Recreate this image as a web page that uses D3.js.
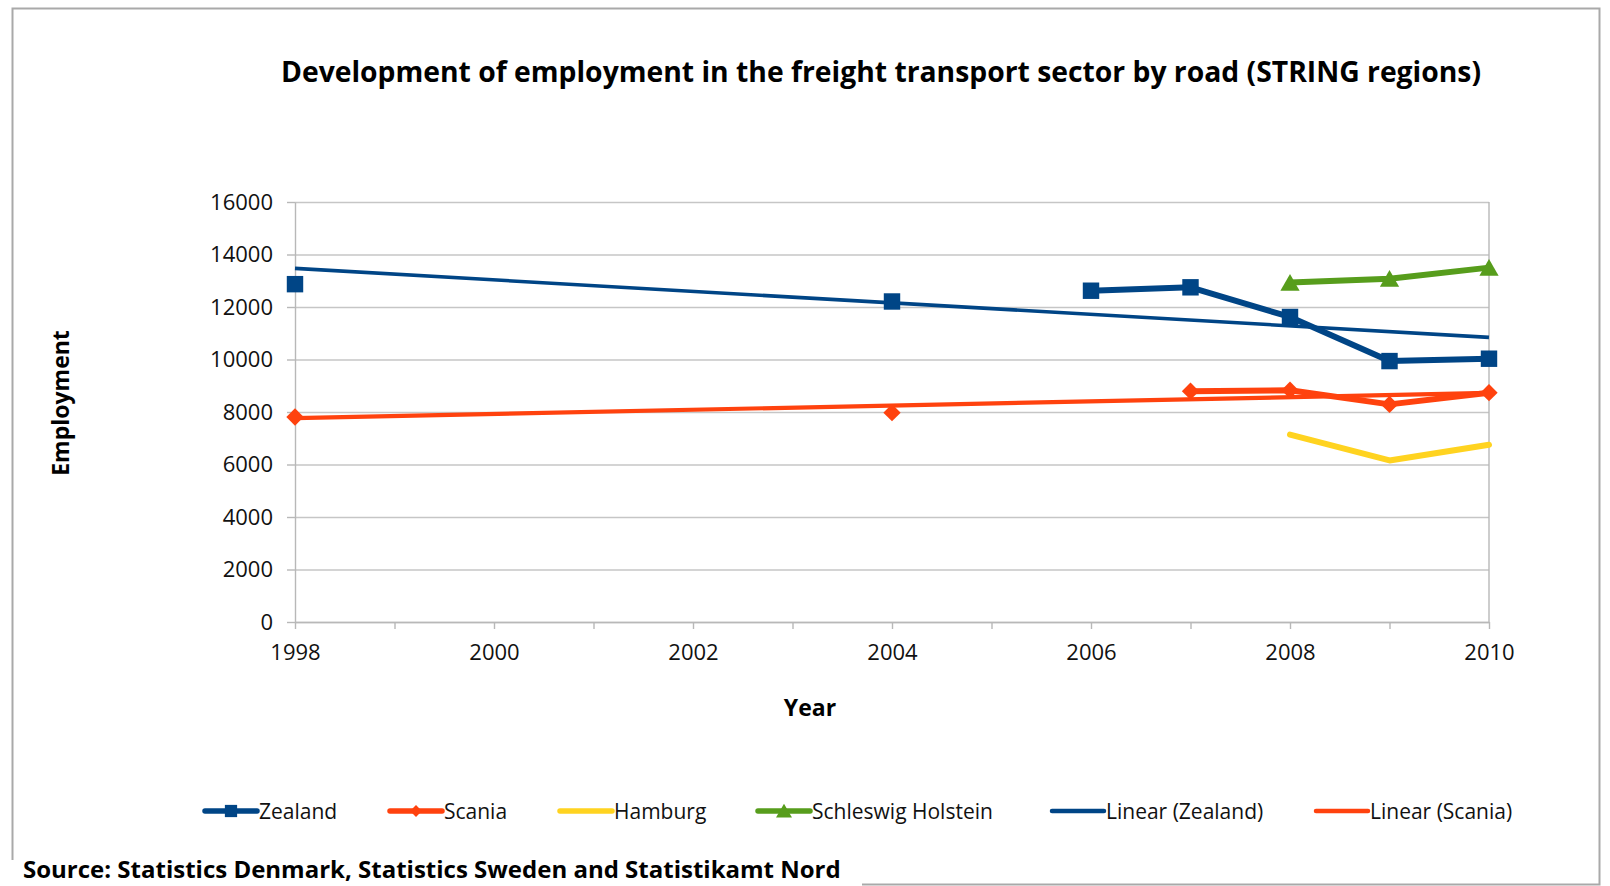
<!DOCTYPE html>
<html>
<head>
<meta charset="utf-8">
<script src="https://cdn.jsdelivr.net/npm/d3@7"></script>
<style>
  body { margin: 0; background: #fff; }
  text { font-family: "Open Sans", "Noto Sans", sans-serif; }
</style>
</head>
<body>
<div class="chart"></div>
<script>
// data
const years = [1998, 1999, 2000, 2001, 2002, 2003, 2004, 2005, 2006, 2007, 2008, 2009, 2010];
const zealand = [12870, null, null, null, null, null, 12210, null, 12620, 12750, 11620, 9940, 10030];
const scania = [7810, null, null, null, null, null, 7975, null, null, 8795, 8830, 8290, 8735];
const hamburg = [null, null, null, null, null, null, null, null, null, null, 7140, 6155, 6755];
const schleswig = [null, null, null, null, null, null, null, null, null, null, 12930, 13080, 13500];
const yTicks = [0, 2000, 4000, 6000, 8000, 10000, 12000, 14000, 16000];
const xLabels = [1998, 2000, 2002, 2004, 2006, 2008, 2010];

const titleText = "Development of employment in the freight transport sector by road (STRING regions)";
const sourceText = "Source: Statistics Denmark, Statistics Sweden and Statistikamt Nord";

var w = 1610,
  h = 886,
  plotLeft = 295,
  plotRight = 1489,
  plotTop = 202,
  plotBottom = 622;

const colors = {
  zealand: "#004586",
  scania: "#ff420e",
  hamburg: "#ffd320",
  schleswig: "#579d1c"
};

const svg = d3.select(".chart").append("svg").attr("width", w).attr("height", h);

// outer frame
svg.append("rect")
  .attr("x", 12.5).attr("y", 8.5)
  .attr("width", 1587).attr("height", 876)
  .attr("fill", "#fff")
  .attr("stroke", "#a9a9a9")
  .attr("stroke-width", 2);

const x = d3.scaleLinear().domain([1998, 2010]).range([plotLeft, plotRight]);
const y = d3.scaleLinear().domain([0, 16000]).range([plotBottom, plotTop]);

// gridlines
svg.append("g")
  .attr("class", "grid")
  .attr("transform", "translate(" + plotLeft + ",0)")
  .call(d3.axisLeft(y).tickValues(yTicks).tickSize(-(plotRight - plotLeft)).tickFormat(""))
  .call((g) => g.select(".domain").remove())
  .call((g) => g.selectAll("line").attr("stroke", "#c6c6c6").attr("stroke-width", 1.4));

// right border of plot area
svg.append("line")
  .attr("x1", plotRight).attr("x2", plotRight)
  .attr("y1", plotTop).attr("y2", plotBottom)
  .attr("stroke", "#b8b8b8").attr("stroke-width", 1.4);

// y axis
svg.append("g")
  .attr("transform", "translate(" + plotLeft + ",0)")
  .call(d3.axisLeft(y).tickValues(yTicks).tickSize(8).tickPadding(14).tickSizeOuter(0)
    .tickFormat(d3.format("d")))
  .call((g) => g.select(".domain").attr("stroke", "#b8b8b8").attr("stroke-width", 1.4))
  .call((g) => g.selectAll("line").attr("stroke", "#b8b8b8").attr("stroke-width", 1.4))
  .call((g) => g.selectAll("text").attr("font-size", "22px").attr("fill", "#111")
    .attr("font-family", "Open Sans"));

// x axis
svg.append("g")
  .attr("transform", "translate(0," + plotBottom + ")")
  .call(d3.axisBottom(x).tickValues(years).tickSize(7).tickPadding(15).tickSizeOuter(0)
    .tickFormat((d) => (xLabels.includes(d) ? d : "")))
  .call((g) => g.select(".domain").attr("stroke", "#b8b8b8").attr("stroke-width", 1.4))
  .call((g) => g.selectAll("line").attr("stroke", "#b8b8b8").attr("stroke-width", 1.4))
  .call((g) => g.selectAll("text").attr("font-size", "22px").attr("fill", "#111")
    .attr("font-family", "Open Sans"));

// least squares trend over the points that exist
function trend(values) {
  const pts = years.map((yr, i) => [yr, values[i]]).filter((p) => p[1] != null);
  const mx = d3.mean(pts, (p) => p[0]);
  const my = d3.mean(pts, (p) => p[1]);
  const b = d3.sum(pts, (p) => (p[0] - mx) * (p[1] - my)) / d3.sum(pts, (p) => (p[0] - mx) ** 2);
  return (yr) => my + b * (yr - mx);
}

const trendZ = trend(zealand);
const trendS = trend(scania);

[[trendZ, colors.zealand, 3.6], [trendS, colors.scania, 4.2]].forEach(([f, c, sw]) => {
  svg.append("path")
    .datum([1998, 2010])
    .attr("d", d3.line().x((d) => x(d)).y((d) => y(f(d))))
    .attr("fill", "none")
    .attr("stroke", c)
    .attr("stroke-width", sw);
});

const line = d3.line()
  .defined((d) => d[1] != null)
  .x((d) => x(d[0]))
  .y((d) => y(d[1]));

const series = [
  { name: "Zealand", values: zealand, color: colors.zealand, symbol: d3.symbolSquare, size: 270, rot: 0 },
  { name: "Scania", values: scania, color: colors.scania, symbol: d3.symbolSquare, size: 150, rot: 45 },
  { name: "Hamburg", values: hamburg, color: colors.hamburg, symbol: null },
  { name: "Schleswig Holstein", values: schleswig, color: colors.schleswig, symbol: d3.symbolTriangle, size: 160, rot: 0 }
];

series.forEach((s) => {
  const pts = years.map((yr, i) => [yr, s.values[i]]);
  svg.append("path")
    .datum(pts)
    .attr("d", line)
    .attr("fill", "none")
    .attr("stroke", s.color)
    .attr("stroke-width", 6)
    .attr("stroke-linejoin", "round")
    .attr("stroke-linecap", "round");
});

series.forEach((s) => {
  if (!s.symbol) return;
  const pts = years.map((yr, i) => [yr, s.values[i]]).filter((p) => p[1] != null);
  const dy = s.symbol === d3.symbolTriangle ? 2.5 : 0;
  svg.append("g")
    .selectAll("path")
    .data(pts)
    .enter()
    .append("path")
    .attr("d", d3.symbol().type(s.symbol).size(s.size))
    .attr("transform", (d) => "translate(" + x(d[0]) + "," + (y(d[1]) + dy) + ") rotate(" + s.rot + ")")
    .attr("fill", s.color);
});

// titles
svg.append("text")
  .attr("x", 881).attr("y", 82)
  .attr("text-anchor", "middle")
  .attr("font-size", "28.3px")
  .attr("font-weight", "bold")
  .text(titleText);

svg.append("text")
  .attr("x", 810).attr("y", 716)
  .attr("text-anchor", "middle")
  .attr("font-size", "23px")
  .attr("font-weight", "bold")
  .text("Year");

svg.append("text")
  .attr("transform", "translate(69,403) rotate(-90)")
  .attr("text-anchor", "middle")
  .attr("font-size", "23px")
  .attr("font-weight", "bold")
  .text("Employment");

// legend
const legendItems = [
  { name: "Zealand", color: colors.zealand, symbol: d3.symbolSquare, size: 150, rot: 0, x: 205 },
  { name: "Scania", color: colors.scania, symbol: d3.symbolSquare, size: 70, rot: 45, x: 390 },
  { name: "Hamburg", color: colors.hamburg, symbol: null, x: 560 },
  { name: "Schleswig Holstein", color: colors.schleswig, symbol: d3.symbolTriangle, size: 110, rot: 0, x: 758 },
  { name: "Linear (Zealand)", color: colors.zealand, symbol: null, x: 1052, thin: true },
  { name: "Linear (Scania)", color: colors.scania, symbol: null, x: 1316, thin: true }
];

const legend = svg.append("g")
  .attr("id", "legend")
  .selectAll("g")
  .data(legendItems)
  .enter()
  .append("g")
  .attr("transform", (d) => "translate(" + d.x + ",811)");

legend.append("line")
  .attr("x1", 0).attr("x2", 52)
  .attr("stroke", (d) => d.color)
  .attr("stroke-width", (d) => (d.thin ? 4.5 : 5.5))
  .attr("stroke-linecap", "round");

legend.filter((d) => d.symbol)
  .append("path")
  .attr("d", (d) => d3.symbol().type(d.symbol).size(d.size)())
  .attr("transform", (d) => "translate(26," + (d.symbol === d3.symbolTriangle ? 2 : 0) + ") rotate(" + d.rot + ")")
  .attr("fill", (d) => d.color);

legend.append("text")
  .attr("x", 54)
  .attr("y", 7.5)
  .attr("font-size", "21px")
  .attr("fill", "#111")
  .text((d) => d.name);

// source note sits on a white patch over the frame
svg.append("rect")
  .attr("x", 0).attr("y", 860)
  .attr("width", 862).attr("height", 26)
  .attr("fill", "#fff");

svg.append("text")
  .attr("x", 23).attr("y", 878)
  .attr("font-size", "24px")
  .attr("font-weight", "bold")
  .text(sourceText);
</script>
</body>
</html>
